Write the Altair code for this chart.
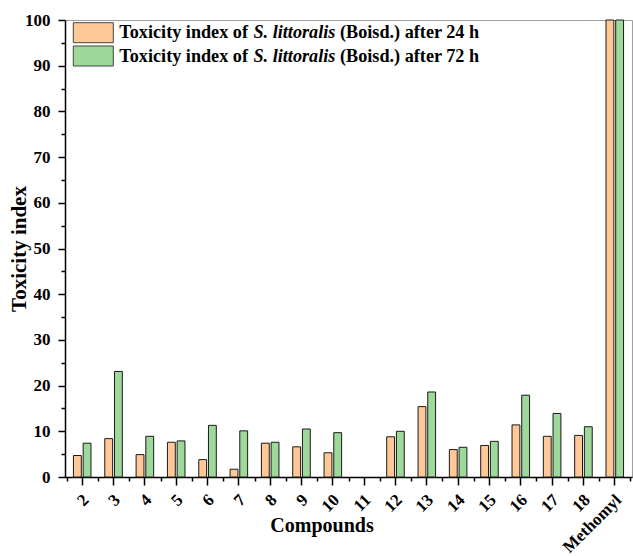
import altair as alt
import pandas as pd

# ---- data ----
compounds = ["2", "3", "4", "5", "6", "7", "8", "9", "10", "11", "12",
             "13", "14", "15", "16", "17", "18", "Methomyl"]
ti_24h = [4.7, 8.4, 4.9, 7.6, 3.8, 1.7, 7.4, 6.6, 5.3, 0.0, 8.8,
          15.4, 6.0, 6.9, 11.4, 8.9, 9.1, 100.0]
ti_72h = [7.4, 23.1, 8.9, 7.9, 11.3, 10.1, 7.6, 10.5, 9.7, 0.0, 10.0,
          18.6, 6.5, 7.8, 17.9, 13.9, 11.0, 100.0]
series = ["after 24 h", "after 72 h"]
colors = ["#FFC896", "#9ED89B"]
legend_prefix = "Toxicity index of"
legend_species = "S. littoralis"
legend_suffix = ["(Boisd.) after 24 h", "(Boisd.) after 72 h"]
y_ticks = list(range(0, 101, 5))

rows = []
for c, a, b in zip(compounds, ti_24h, ti_72h):
    rows.append({"compound": c, "series": series[0], "value": a})
    rows.append({"compound": c, "series": series[1], "value": b})
df = pd.DataFrame(rows)

FONT = "Liberation Serif"
W, H = 567, 457

x_scale = alt.Scale(domain=compounds, paddingInner=0, paddingOuter=0.05)
y_scale = alt.Scale(domain=[0, 100], nice=False)
color_scale = alt.Scale(domain=series, range=colors)

bars = alt.Chart(df).mark_bar(stroke="#1a1a1a", strokeWidth=1).encode(
    x=alt.X("compound:N", sort=compounds, scale=x_scale,
            axis=alt.Axis(orient="bottom", domainColor="black", domainWidth=1.5,
                          tickColor="black", tickWidth=1.5, tickSize=8,
                          labelAngle=315, labelAlign="right", labelBaseline="middle",
                          labelPadding=12, labelOffset=4, labelFont=FONT, labelFontSize=17,
                          labelFontWeight="bold", labelColor="black",
                          title="Compounds", titleFont=FONT, titleFontSize=20,
                          titleFontWeight="bold", titleColor="black",
                          titleX=256.5, titleY=54, titleAlign="center",
                          titleBaseline="alphabetic")),
    xOffset=alt.XOffset("series:N", sort=series,
                        scale=alt.Scale(paddingInner=0.19, paddingOuter=0.71)),
    y=alt.Y("value:Q", scale=y_scale,
            axis=alt.Axis(values=y_ticks, grid=False,
                          labelExpr="datum.value % 10 === 0 ? datum.label : ''",
                          tickSize={"condition": {"test": "datum.value % 10 === 0", "value": 7}, "value": 4},
                          domainColor="black", domainWidth=1.5,
                          tickColor="black", tickWidth=1.5,
                          labelPadding=8, labelFont=FONT, labelFontSize=17,
                          labelFontWeight="bold", labelColor="black",
                          title="Toxicity index", titleFont=FONT, titleFontSize=21,
                          titleFontWeight="bold", titleColor="black",
                          titleAngle=270, titleX=-39.5, titleY=228.5,
                          titleAlign="center", titleBaseline="alphabetic")),
    color=alt.Color("series:N", scale=color_scale, legend=None),
    strokeOpacity=alt.condition("datum.value > 0", alt.value(1), alt.value(0)),
)

minor = alt.Chart(pd.DataFrame({"compound": compounds})).mark_point(opacity=0).encode(
    x=alt.X("compound:N", sort=compounds, scale=x_scale,
            axis=alt.Axis(orient="bottom", tickBand="extent", labels=False,
                          domain=False, title=None, tickSize=4, tickWidth=1.5,
                          tickColor="black", grid=False)),
)

layers = [bars, minor]
for i, s in enumerate(series):
    ldf = pd.DataFrame({"series": [s], "prefix": [legend_prefix],
                        "species": [legend_species], "suffix": [legend_suffix[i]]})
    dy = i * 23.3
    base = alt.Chart(ldf)
    layers.append(base.mark_rect(stroke="#444444", strokeWidth=1).encode(
        x=alt.value(8.3), x2=alt.value(48.3),
        y=alt.value(2.7 + dy), y2=alt.value(22.7 + dy),
        color=alt.Color("series:N", scale=color_scale, legend=None)))
    common = dict(font=FONT, fontSize=18.2, fontWeight="bold", color="black",
                  align="left", baseline="alphabetic")
    layers.append(base.mark_text(**common).encode(
        x=alt.value(54.3), y=alt.value(18.3 + dy), text="prefix:N"))
    layers.append(base.mark_text(fontStyle="italic", **common).encode(
        x=alt.value(188.5), y=alt.value(18.3 + dy), text="species:N"))
    layers.append(base.mark_text(**common).encode(
        x=alt.value(275.0), y=alt.value(18.3 + dy), text="suffix:N"))

chart = alt.layer(*layers).resolve_axis(x="independent").properties(
    width=W, height=H,
    autosize=alt.AutoSizeParams(type="none"),
    padding={"left": 65, "top": 20, "right": 1, "bottom": 79},
).configure_view(stroke="#a0a0a0", strokeWidth=1)

chart.save("out.html", embed_options={"renderer": "svg", "actions": False})
